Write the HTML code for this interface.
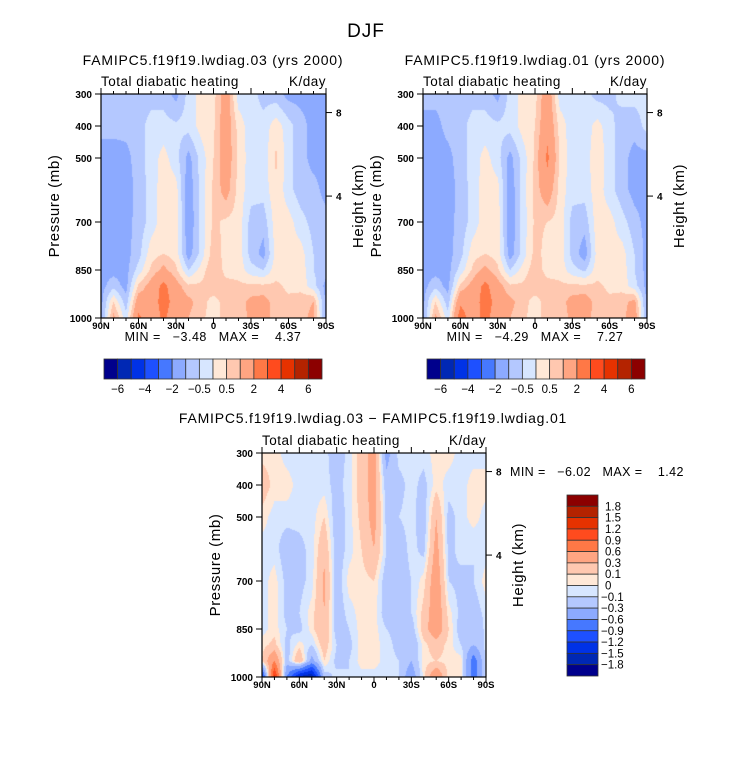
<!DOCTYPE html>
<html><head><meta charset="utf-8"><style>
body{margin:0;background:#fff;width:733px;height:772px;overflow:hidden;position:relative;font-family:"Liberation Sans",sans-serif}
canvas{position:absolute}
svg{position:absolute;left:0;top:0}
text{font-family:"Liberation Sans",sans-serif;fill:#000;white-space:pre}
</style></head><body>
<canvas id="c1"></canvas>
<canvas id="c2"></canvas>
<canvas id="c3"></canvas>
<svg id="s" width="733" height="772"></svg>
<script>
const lats=[90,80,70,60,50,40,30,20,10,0,-10,-20,-30,-40,-50,-60,-70,-80,-90];
const levels=[300,400,500,600,700,800,850,900,950,1000];
const latTicks=["90N","60N","30N","0","30S","60S","90S"];
const pTicks=[300,400,500,700,850,1000];
const kmTicks=[{km:8,p:358},{km:4,p:619}];
const levA=[-6,-5,-4,-3,-2,-1,-0.5,0,0.5,1,2,3,4,5,6];
const levA_labels=["-6","-4","-2","-0.5","0.5","2","4","6"];
const levB=[-1.8,-1.5,-1.2,-0.9,-0.6,-0.3,-0.1,0,0.1,0.3,0.6,0.9,1.2,1.5,1.8];
const colors=['#00008c','#0028b4','#0032e6','#1e50ff','#4678ff','#8caaff','#b4c8ff','#d7e6ff','#ffe8d7','#ffc8b0','#ffa582','#ff7846','#ff4b1e','#e63200','#b42300','#8c0000'];
const data1=[
[-0.8,-0.8,-0.8,-0.8,-0.7,-0.7,-1.2,-0.3,0.2,0.3,1.5,-0.3,-0.3,-0.7,-0.8,-1.2,-1.2,-1.2,-1.2],
[-0.8,-0.8,-0.8,-0.7,-0.3,-0.3,-0.4,-0.3,0.2,0.4,1.5,0.3,-0.3,-0.3,0.3,-0.3,-0.8,-1.2,-1.2],
[-1.3,-1.3,-1.2,-0.7,-0.3,0.2,-0.3,-1.2,-0.3,0.5,1.5,0.4,-0.3,-0.3,0.6,-0.3,-0.8,-1.2,-1.2],
[-1.3,-1.3,-1.3,-0.8,-0.3,0.3,0.2,-1.4,-0.3,0.6,1.3,0.3,-0.3,-0.3,0.4,-0.3,-0.8,-0.8,-1.2],
[-1.3,-1.3,-1.2,-0.8,-0.3,0.3,0.3,-1.5,-0.3,0.6,0.4,0.3,-0.7,-0.8,0.3,0.2,-0.3,-0.7,-0.8],
[-1.3,-1.3,-1.2,-0.7,0.3,0.5,0.3,-1.3,-0.3,0.8,0.3,0.3,-0.7,-1.2,0.2,0.2,0.2,-0.5,-0.8],
[-1.2,-1.2,-1.2,-0.3,0.6,1.2,0.6,-0.5,0.2,1.0,0.3,0.3,-0.3,-0.5,0.3,0.3,0.3,-0.5,-0.8],
[-1.2,-0.7,-1.2,0.6,1.3,2.3,1.3,0.6,0.6,0.8,0.7,0.6,0.6,0.6,0.6,0.4,0.3,-0.3,-1.2],
[-1.2,0.5,-0.8,1.5,1.3,2.5,1.5,1.2,0.7,0.3,0.7,0.7,1.2,1.3,0.7,0.6,0.8,1.0,-1.2],
[-1.2,1.2,-0.3,2.2,1.3,2.2,1.3,1.0,0.6,0.3,0.7,0.6,1.2,1.2,0.8,0.6,0.8,1.2,-1.2]];
const data2=[
[-0.8,-0.8,-0.8,-0.8,-0.7,-0.7,-1.2,-0.3,0.2,0.3,1.6,-0.3,-0.3,-0.3,-0.7,-0.7,-0.3,-0.3,-0.3],
[-1.2,-1.2,-0.8,-0.7,-0.3,-0.3,-0.4,-0.3,0.2,0.5,1.7,0.3,-0.3,-0.3,0.2,-0.3,-0.8,-0.8,-0.3],
[-1.3,-1.3,-1.2,-0.7,-0.3,0.2,-0.3,-1.2,-0.3,0.6,2.2,0.4,-0.3,-0.3,0.4,-0.3,-0.8,-1.2,-1.2],
[-1.3,-1.3,-1.3,-0.8,-0.3,0.3,0.2,-1.4,-0.3,0.7,1.5,0.3,-0.3,-0.3,0.3,-0.3,-0.8,-1.2,-1.2],
[-1.3,-1.3,-1.2,-0.8,-0.3,0.3,0.3,-1.5,-0.3,0.6,0.5,0.3,-0.7,-0.8,0.3,0.2,-0.3,-0.8,-1.2],
[-1.3,-1.3,-1.2,-0.7,0.3,0.5,0.3,-1.3,-0.3,0.7,0.3,0.3,-0.7,-1.3,0.2,0.2,0.2,-0.5,-1.2],
[-1.2,-1.2,-1.2,-0.3,0.6,1.2,0.6,-0.5,0.2,0.8,0.3,0.3,-0.3,-0.6,0.3,0.3,0.3,-0.5,-1.2],
[-1.2,-0.7,-1.2,0.6,1.3,2.3,1.3,0.6,0.6,0.8,0.7,0.6,0.6,0.6,0.6,0.4,0.3,-0.3,-1.2],
[-1.2,0.5,-0.8,1.8,1.3,2.6,1.5,1.2,0.7,0.3,0.7,0.7,1.3,1.4,0.7,0.6,0.8,1.2,-1.2],
[-1.2,1.2,-0.3,2.6,1.4,2.4,1.3,1.0,0.6,0.3,0.7,0.6,1.2,1.2,0.8,0.6,0.8,1.5,-1.2]];
const data3=[
[0.05,0.05,-0.05,-0.05,-0.05,-0.05,-0.2,-0.05,0.2,0.4,-0.4,-0.05,-0.05,-0.05,0.05,0.05,-0.05,-0.05,-0.05],
[0.2,0.05,0.05,-0.05,-0.05,-0.05,-0.15,-0.05,0.2,0.4,-0.2,-0.15,-0.05,-0.15,0.05,-0.05,-0.05,0.05,0.05],
[0.05,-0.05,-0.05,-0.05,-0.05,0.1,-0.2,-0.05,0.15,0.4,-0.15,-0.1,-0.05,-0.2,0.3,-0.15,-0.05,0.05,-0.05],
[-0.05,-0.05,-0.2,-0.15,-0.05,0.25,-0.2,-0.05,0.1,0.3,-0.1,-0.2,-0.05,-0.15,0.4,-0.15,-0.05,-0.1,-0.05],
[-0.05,0.05,-0.15,-0.15,-0.05,0.35,-0.2,0.05,0.05,0.1,-0.2,-0.2,-0.1,0.05,0.5,-0.1,-0.15,-0.1,0.05],
[-0.05,0.05,-0.15,-0.1,0.05,0.3,-0.2,-0.05,0.05,0.05,-0.2,-0.15,-0.1,0.15,0.5,0.05,-0.15,-0.2,-0.05],
[-0.05,0.05,-0.1,-0.15,0.05,0.3,-0.2,-0.1,0.05,0.05,-0.1,-0.15,-0.2,0.2,0.5,0.1,-0.2,-0.3,-0.05],
[0.05,0.15,-0.15,0.05,-0.1,0.2,-0.1,-0.15,0.05,0.05,-0.05,-0.15,-0.3,0.05,0.2,0.05,-0.1,-0.3,-0.05],
[0.1,0.6,-0.2,0.3,-0.4,0.1,-0.15,-0.1,0.05,0.05,-0.05,-0.1,-0.3,0.05,0.1,0.05,0.05,-0.8,-0.05],
[-1.2,1.3,-0.6,-1.6,-1.8,-0.2,-0.05,-0.1,-0.05,-0.05,-0.05,-0.1,-0.5,0.05,0.6,0.05,0.05,-0.8,-0.05]];

const NS='http://www.w3.org/2000/svg';
const svg=document.getElementById('s');
function el(tag,attrs,parent){const e=document.createElementNS(NS,tag);for(const k in attrs)e.setAttribute(k,attrs[k]);(parent||svg).appendChild(e);return e;}
function txt(s,x,y,size,anchor,name,extra){const t=el('text',Object.assign({x:x,y:y,'font-size':size,'text-anchor':anchor||'start'},extra||{}));t.textContent=s;


return t;}

function sample(data,lat,p){
  let c=(90-lat)/10; let c0=Math.min(17,Math.floor(c)); let fc=c-c0;
  let r0=0; while(r0<levels.length-2 && p>levels[r0+1]) r0++;
  let fr=(p-levels[r0])/(levels[r0+1]-levels[r0]); fr=Math.max(0,Math.min(1,fr));
  const a=data[r0][c0],b=data[r0][c0+1],d=data[r0+1][c0],e=data[r0+1][c0+1];
  return (a*(1-fc)+b*fc)*(1-fr)+(d*(1-fc)+e*fc)*fr;
}
function colorIdx(v,lev){let i=0;while(i<lev.length&&v>=lev[i])i++;return i;}

function panel(P){
  const {x0,y0,w,h,data,lev,cid,prefix}=P;
  const X=lat=>x0+(90-lat)/180*w;
  const Y=p=>y0+(p-300)/700*h;
  const cv=document.getElementById(cid);
  cv.width=w;cv.height=h;cv.style.left=x0+'px';cv.style.top=y0+'px';
  const ctx=cv.getContext('2d');
  for(let j=0;j<h;j++){const p=300+(j+0.5)/h*700;
    for(let i=0;i<w;i++){const lat=90-(i+0.5)/w*180;
      ctx.fillStyle=colors[colorIdx(sample(data,lat,p),lev)];ctx.fillRect(i,j,1,1);}}
  const g=el('g',{});
  
  
  el('rect',{x:x0,y:y0,width:w,height:h,fill:'none',stroke:'#000','stroke-width':1.2},g);
  for(let lat=90;lat>=-90;lat-=10){const major=lat%30===0;const L=major?6:3;
    el('line',{x1:X(lat),x2:X(lat),y1:y0,y2:y0-L,stroke:'#000'},g);
    el('line',{x1:X(lat),x2:X(lat),y1:y0+h,y2:y0+h+L,stroke:'#000'},g);}
  latTicks.forEach((s,i)=>{const lat=90-i*30;txt(s,X(lat),y0+h+11,9.5,'middle',prefix+'-x-tick-label',{'font-weight':'bold'});});
  pTicks.forEach(p=>{el('line',{x1:x0,x2:x0-6,y1:Y(p),y2:Y(p),stroke:'#000'},g);
    txt(String(p),x0-9,Y(p)+4,10,'end',prefix+'-y-tick-label',{'font-weight':'bold'});});
  kmTicks.forEach(k=>{el('line',{x1:x0+w,x2:x0+w+6,y1:Y(k.p),y2:Y(k.p),stroke:'#000'},g);
    txt(String(k.km),x0+w+10,Y(k.p)+4,10,'start',prefix+'-right-tick-label',{'font-weight':'bold'});});
  txt('Pressure (mb)',0,0,15,'middle',prefix+'-y-axis-title',{transform:`translate(${x0-42},${y0+h/2}) rotate(-90)`,'letter-spacing':'0.6'});
  txt('Height (km)',0,0,15,'middle',prefix+'-right-axis-title',{transform:`translate(${x0+w+37},${y0+h/2}) rotate(-90)`,'letter-spacing':'0.6'});
  txt('Total diabatic heating',x0,y0-8,13.5,'start',prefix+'-subtitle',{'letter-spacing':'0.5'});
  txt('K/day',x0+w,y0-8,13.5,'end',prefix+'-units',{'letter-spacing':'0.5'});
  return {X,Y};
}

txt('DJF',366,37,19,'middle','main-title',{'letter-spacing':'1'});
panel({x0:101,y0:94,w:225,h:224,data:data1,lev:levA,cid:'c1',prefix:'panel1'});
txt('FAMIPC5.f19f19.lwdiag.03 (yrs 2000)',213,65,14,'middle','panel1-title',{'letter-spacing':'0.8'});
txt('MIN =   \u22123.48   MAX =    4.37',213,341,12.5,'middle','panel1-min-max',{'letter-spacing':'0.5'});
panel({x0:423,y0:94,w:224,h:224,data:data2,lev:levA,cid:'c2',prefix:'panel2'});
txt('FAMIPC5.f19f19.lwdiag.01 (yrs 2000)',535,65,14,'middle','panel2-title',{'letter-spacing':'0.8'});
txt('MIN =   \u22124.29   MAX =    7.27',535,341,12.5,'middle','panel2-min-max',{'letter-spacing':'0.5'});
panel({x0:262,y0:453,w:224,h:224,data:data3,lev:levB,cid:'c3',prefix:'diff'});
txt('FAMIPC5.f19f19.lwdiag.03 \u2212 FAMIPC5.f19f19.lwdiag.01',373,423,14,'middle','diff-title',{'letter-spacing':'0.8'});
txt('MIN =   \u22126.02   MAX =    1.42',510,476,12.5,'start','diff-min-max',{'letter-spacing':'0.4'});

function hbar(x0,y0,w,h,prefix){const bw=w/colors.length;
  colors.forEach((c,i)=>{const r=el('rect',{x:x0+i*bw,y:y0,width:bw,height:h,fill:c,stroke:'#333','stroke-width':0.8});
    
    });
  levA_labels.forEach((s,k)=>{const i=k*2+1;txt(s.replace('-','\u2212'),x0+i*bw,y0+h+14,11.5,'middle',prefix+'-colorbar-label');});}
hbar(104,359,218,20,'panel1');
hbar(427,359,218,20,'panel2');
(function(){const x0=567,y0=495,w=31,h=181,bh=h/colors.length;
  colors.slice().reverse().forEach((c,i)=>{const r=el('rect',{x:x0,y:y0+i*bh,width:w,height:bh,fill:c,stroke:'#333','stroke-width':0.8});
    
    });
  levB.slice().reverse().forEach((v,k)=>{const y=y0+(k+1)*bh+4;const s=v<0?'\u2212'+Math.abs(v):String(v);
    txt(s,v<0?601:605,y,11.5,'start','diff-colorbar-label');});})();
</script>
</body></html>
